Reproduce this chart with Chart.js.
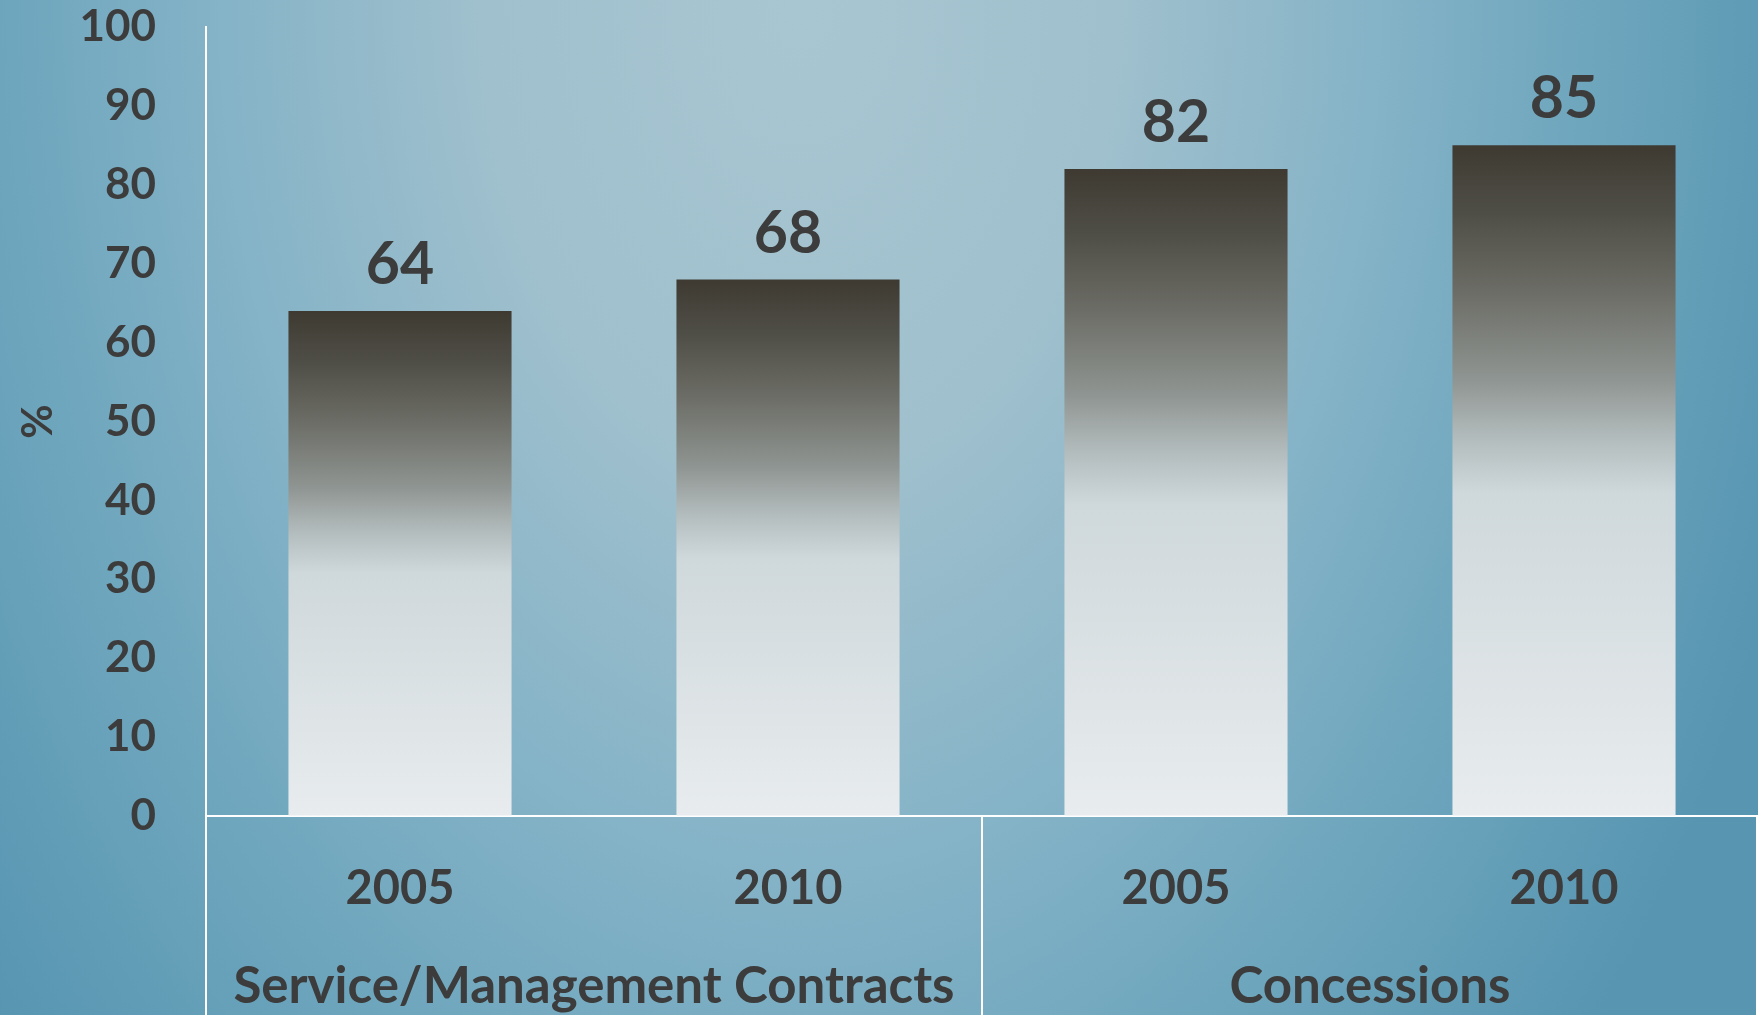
<!DOCTYPE html>
<html>
<head>
<meta charset="utf-8">
<script src="https://cdn.jsdelivr.net/npm/chart.js@4"></script>
<style>
  html, body { margin: 0; padding: 0; background: #7fb0c6; }
  #wrap { width: 1758px; height: 1015px; position: relative; }
</style>
</head>
<body>
<div id="wrap"><canvas id="chart"></canvas></div>
<script>
// Datos del gráfico
const years = ['2005', '2010', '2005', '2010'];
const groupLabels = ['Service/Management Contracts', 'Concessions'];
const shares = [64, 68, 82, 85];
const yTickValues = [0, 10, 20, 30, 40, 50, 60, 70, 80, 90, 100];
const yTitle = '%';

const textColor = '#3c3c3c';
const fontFamily = 'Lato, "Open Sans", sans-serif';

// Fondo con degradado
const backgroundPlugin = {
    id: 'background',
    beforeDraw(chart) {
        const ctx = chart.ctx;
        const w = chart.width, h = chart.height;
        ctx.save();
        ctx.translate(800, 0);
        ctx.scale(1, 1.5);
        const g = ctx.createRadialGradient(0, 0, 0, 0, 0, 1050);
        g.addColorStop(0, '#a8c6d2');
        g.addColorStop(0.3, '#a0c0cd');
        g.addColorStop(0.55, '#85b3c7');
        g.addColorStop(0.75, '#6ea6bd');
        g.addColorStop(1, '#5795b1');
        ctx.fillStyle = g;
        ctx.fillRect(-800, 0, w, h / 1.5);
        ctx.restore();
    }
};

// Etiquetas de valor sobre las barras
const valueLabels = {
    id: 'valueLabels',
    afterDatasetsDraw(chart) {
        const ctx = chart.ctx;
        const meta = chart.getDatasetMeta(0);
        ctx.save();
        ctx.fillStyle = textColor;
        ctx.font = 'bold 59px ' + fontFamily;
        ctx.textAlign = 'center';
        ctx.textBaseline = 'middle';
        meta.data.forEach((bar, i) => {
            ctx.fillText(String(shares[i]), bar.x, bar.y - 46);
        });
        ctx.restore();
    }
};

// Líneas divisorias del eje de categorías
const groupDividers = {
    id: 'groupDividers',
    afterDraw(chart) {
        const ctx = chart.ctx;
        const x = chart.scales.x;
        const top = chart.chartArea.bottom;
        const bottom = chart.height;
        const positions = [x.left, x.getPixelForValue(1.5), x.right - 1];
        ctx.save();
        ctx.strokeStyle = '#ffffff';
        ctx.lineWidth = 2;
        positions.forEach(px => {
            ctx.beginPath();
            ctx.moveTo(px, top);
            ctx.lineTo(px, bottom);
            ctx.stroke();
        });
        ctx.restore();
    }
};

function barGradient(context) {
    const chart = context.chart;
    if (!chart.chartArea) return '#d0d8db';
    const y = chart.scales.y;
    const top = y.getPixelForValue(shares[context.dataIndex]);
    const base = y.getPixelForValue(0);
    const g = chart.ctx.createLinearGradient(0, top, 0, base);
    g.addColorStop(0, '#3e3a32');
    g.addColorStop(0.1, '#4f4e46');
    g.addColorStop(0.22, '#6c6d66');
    g.addColorStop(0.35, '#8f9592');
    g.addColorStop(0.44, '#b4bdbe');
    g.addColorStop(0.52, '#cfd8db');
    g.addColorStop(1, '#e8ecee');
    return g;
}

new Chart(document.getElementById('chart'), {
    type: 'bar',
    data: {
        labels: years,
        datasets: [{
            data: shares,
            backgroundColor: barGradient,
            borderWidth: 0,
            categoryPercentage: 1,
            barPercentage: 0.575
        }]
    },
    options: {
        responsive: true,
        maintainAspectRatio: false,
        animation: false,
        layout: { padding: { top: 27, right: 0, left: 0, bottom: 0 } },
        plugins: {
            legend: { display: false },
            tooltip: { enabled: false }
        },
        scales: {
            y: {
                min: 0,
                max: 100,
                afterBuildTicks(scale) {
                    scale.ticks = yTickValues.map(v => ({ value: v }));
                },
                afterFit(scale) {
                    scale.width = 206;
                    scale.paddingTop = 0;
                    scale.paddingBottom = 0;
                },
                grid: { drawOnChartArea: false, drawTicks: false },
                border: { display: true, color: '#ffffff', width: 2 },
                ticks: {
                    color: textColor,
                    padding: 50,
                    font: { family: fontFamily, size: 44, weight: 'bold' }
                },
                title: {
                    display: true,
                    text: yTitle,
                    color: textColor,
                    padding: { top: 13, bottom: 0 },
                    font: { family: fontFamily, size: 42, weight: 'bold' }
                }
            },
            x: {
                position: 'bottom',
                weight: 0,
                afterFit(scale) { scale.height = 120; },
                grid: { display: false },
                border: { display: true, color: '#ffffff', width: 2 },
                ticks: {
                    color: textColor,
                    padding: 37,
                    maxRotation: 0,
                    font: { family: fontFamily, size: 47, weight: 'bold' }
                }
            },
            x2: {
                type: 'category',
                labels: groupLabels,
                position: 'bottom',
                weight: 1,
                offset: true,
                afterFit(scale) { scale.height = 79; },
                grid: { display: false },
                border: { display: false },
                ticks: {
                    color: textColor,
                    padding: 12,
                    maxRotation: 0,
                    font: { family: fontFamily, size: 51, weight: 'bold' }
                }
            }
        }
    },
    plugins: [backgroundPlugin, valueLabels, groupDividers]
});
</script>
</body>
</html>
